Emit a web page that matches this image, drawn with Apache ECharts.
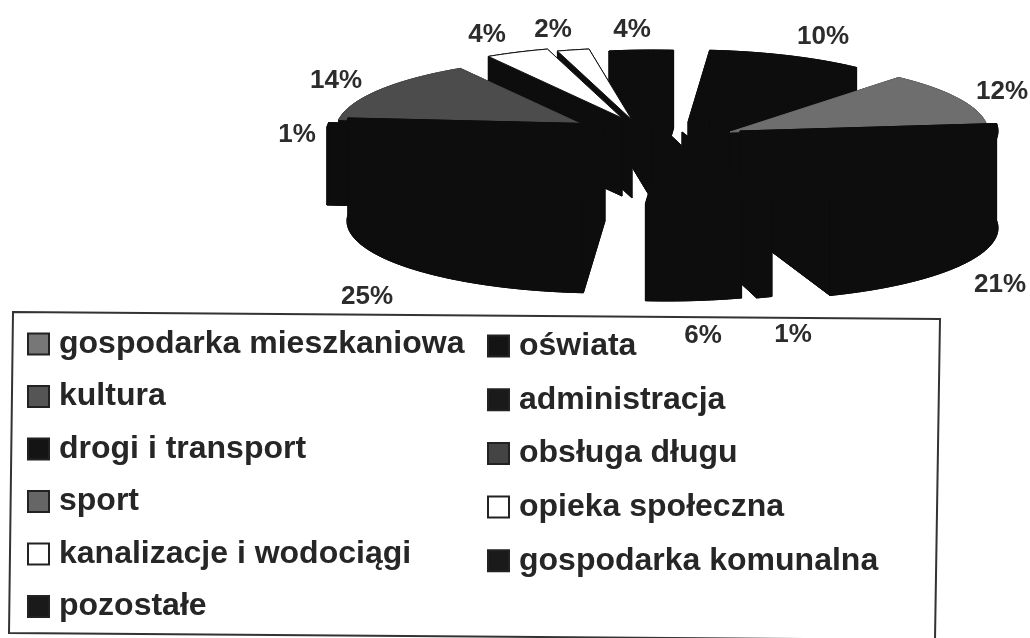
<!DOCTYPE html>
<html>
<head>
<meta charset="utf-8">
<script src="https://cdn.jsdelivr.net/npm/echarts@6/dist/echarts.min.js"></script>
<style>
  html, body { margin: 0; padding: 0; background: #fff; }
  /* the reference is a soft scan */
  #chart { width: 1030px; height: 638px; filter: blur(0.6px); }
</style>
</head>
<body>
<div id="chart"></div>
<script>
// slices clockwise, starting at the flat edge between the two big right-hand pieces
const categories = ['drogi i transport', 'sport', 'pozostałe', 'oświata', 'obsługa długu', 'kultura',
  'kanalizacje i wodociągi', 'opieka społeczna', 'gospodarka komunalna', 'administracja', 'gospodarka mieszkaniowa']
const values = [21, 1, 6, 25, 1, 14, 4, 2, 4, 10, 12]
const legendLeft = ['gospodarka mieszkaniowa', 'kultura', 'drogi i transport', 'sport', 'kanalizacje i wodociągi', 'pozostałe']
const legendRight = ['oświata', 'administracja', 'obsługa długu', 'opieka społeczna', 'gospodarka komunalna']

// swatch colour / colour of the slice top
const swatchColors = ['#141414', '#666666', '#1a1a1a', '#141414', '#444444', '#555555', '#ffffff', '#ffffff', '#1a1a1a', '#1a1a1a', '#777777']
const topColors = ['#0d0d0d', '#0d0d0d', '#0d0d0d', '#0d0d0d', '#0d0d0d', '#4c4c4c', '#ffffff', '#ffffff', '#0d0d0d', '#0d0d0d', '#6e6e6e']

// layout of the exploded pie
const startDeg = 84
const center = [650, 120]
const rx = 258
const ry = 72
const explode = [[90, 11], [32, 12], [17, 12], [-45, 4], [-66, 13], [-56, 10], [-28, -2], [-18, 0], [2, 2], [38, 2], [80, 12]]
const depth = [97, 97, 97, 97, 78, 78, 78, 78, 78, 78, 97]
const labelAt = [[1000, 285], [793, 335], [703, 336], [367, 297], [297, 135], [336, 81], [487, 35], [553, 30], [632, 30], [823, 37], [1002, 92]]

const sideColor = '#0d0d0d'
const total = values.reduce((a, b) => a + b, 0)

function sliceAngles (idx) {
  const before = values.slice(0, idx).reduce((a, b) => a + b, 0)
  return [startDeg + before / total * 360, startDeg + (before + values[idx]) / total * 360]
}

function renderSlice (idx) {
  const [a0, a1] = sliceAngles(idx)
  const ax = center[0] + explode[idx][0]
  const ay = center[1] + explode[idx][1]
  const d = depth[idx]
  const arc = []
  const steps = Math.max(6, Math.round(a1 - a0))
  for (let i = 0; i <= steps; i++) {
    const a = (a0 + (a1 - a0) * i / steps) * Math.PI / 180
    arc.push([ax + rx * Math.sin(a), ay - ry * Math.cos(a)])
  }
  const down = arc.map(p => [p[0], p[1] + d])
  const apex = [ax, ay]
  const apexDown = [ax, ay + d]
  const isLight = topColors[idx] === '#ffffff'
  const poly = (points, fill, stroke) => ({
    type: 'polygon',
    shape: { points },
    style: { fill, stroke: stroke, lineWidth: 1 }
  })
  return {
    type: 'group',
    children: [
      poly([apexDown].concat(down), sideColor, sideColor),
      poly([apex, arc[0], down[0], apexDown], sideColor, sideColor),
      poly([apex, arc[arc.length - 1], down[down.length - 1], apexDown], sideColor, sideColor),
      poly(arc.concat(down.slice().reverse()), sideColor, sideColor),
      poly([apex].concat(arc), topColors[idx], isLight ? '#111111' : topColors[idx]),
      {
        type: 'text',
        style: {
          x: labelAt[idx][0],
          y: labelAt[idx][1],
          text: values[idx] + '%',
          align: 'center',
          verticalAlign: 'middle',
          font: 'bold 26px "Liberation Sans", Arial, sans-serif',
          fill: '#2c2c2c'
        }
      }
    ]
  }
}

// back slices first so the front ones cover them
const drawOrder = categories.map((c, i) => i).sort((p, q) => {
  const mid = i => sliceAngles(i).reduce((a, b) => a + b, 0) / 2 * Math.PI / 180
  return Math.cos(mid(q)) - Math.cos(mid(p))
})

const legendBase = {
  orient: 'vertical',
  padding: 0,
  height: 310,
  icon: 'rect',
  itemWidth: 21,
  itemHeight: 21,
  itemGap: 20.5,
  selectedMode: false,
  textStyle: {
    fontFamily: '"Liberation Sans", Arial, sans-serif',
    fontWeight: 'bold',
    fontSize: 32,
    lineHeight: 32,
    color: '#262626',
    padding: [0, 0, 0, 5]
  }
}

const option = {
  backgroundColor: '#ffffff',
  animation: false,
  legend: [
    Object.assign({}, legendBase, { left: 27, top: 328, data: legendLeft }),
    Object.assign({}, legendBase, { left: 487, top: 330, itemGap: 21.7, data: legendRight })
  ],
  graphic: [{
    type: 'polygon',
    z: -1,
    silent: true,
    shape: { points: [[13, 312], [940, 319], [935, 640], [9, 633]] },
    style: { fill: 'transparent', stroke: '#333333', lineWidth: 2 }
  }],
  series: drawOrder.map(idx => ({
    type: 'custom',
    name: categories[idx],
    coordinateSystem: 'none',
    silent: true,
    clip: false,
    itemStyle: { color: swatchColors[idx], borderColor: '#222222', borderWidth: 1 },
    data: [[values[idx]]],
    renderItem: () => renderSlice(idx)
  }))
}

const chart = echarts.init(document.getElementById('chart'), null, { renderer: 'canvas' })
chart.setOption(option)
</script>
</body>
</html>
